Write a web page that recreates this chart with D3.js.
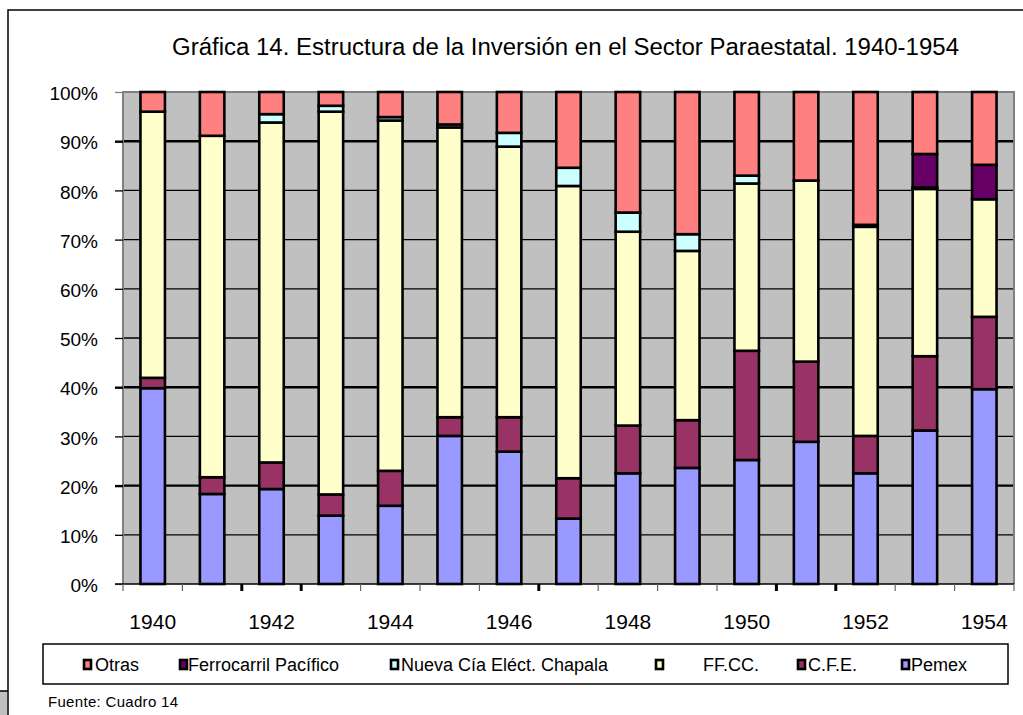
<!DOCTYPE html>
<html><head><meta charset="utf-8">
<script src="https://cdn.jsdelivr.net/npm/d3@7"></script>
<style>
body{margin:0;background:#fff}
svg{display:block}
text{font-family:Arial,"Liberation Sans",sans-serif;fill:#000}
</style>
</head><body>
<svg id="c" width="1023" height="715"></svg>
<script>
// ---- data (percent of total investment) ----
const years = ["1940","1941","1942","1943","1944","1945","1946","1947","1948","1949","1950","1951","1952","1953","1954"];
const yearTickLabels = ["1940","","1942","","1944","","1946","","1948","","1950","","1952","","1954"];
const pemex  = [39.8,18.3,19.3,13.9,15.9,30.1,26.9,13.3,22.5,23.6,25.2,28.9,22.5,31.2,39.6];
const cfe    = [ 2.1, 3.4, 5.4, 4.3, 7.1, 3.8, 7.0, 8.2, 9.7, 9.7,22.2,16.3, 7.6,15.1,14.7];
const ffcc   = [54.1,69.4,69.1,77.8,71.2,58.9,55.0,59.4,39.4,34.4,34.0,36.8,42.5,34.0,23.9];
const nueva  = [ 0.0, 0.0, 1.7, 1.2, 0.7, 0.6, 2.8, 3.7, 3.9, 3.4, 1.6, 0.0, 0.4, 0.3, 0.0];
const ferro  = [ 0.0, 0.0, 0.0, 0.0, 0.0, 0.0, 0.0, 0.0, 0.0, 0.0, 0.0, 0.0, 0.0, 6.8, 7.0];
const otras  = [ 4.0, 8.9, 4.5, 2.8, 5.1, 6.6, 8.3,15.4,24.5,28.9,17.0,18.0,27.0,12.6,14.8];
const seriesKeys   = ["Pemex","C.F.E.","FF.CC.","Nueva Cía Eléct. Chapala","Ferrocarril Pacífico","Otras"];
const seriesValues = [pemex, cfe, ffcc, nueva, ferro, otras];
const seriesColors = ["#9999FF","#993366","#FFFFCC","#CCFFFF","#660066","#FF8080"];
const yTicks = [0,10,20,30,40,50,60,70,80,90,100];
const title = "Gráfica 14. Estructura de la Inversión en el Sector Paraestatal. 1940-1954";
const source = "Fuente: Cuadro 14";

// ---- build table ----
const rows = years.map((yr,i)=>{
  const r = {year:yr};
  seriesKeys.forEach((k,j)=>{ r[k] = seriesValues[j][i]; });
  return r;
});
const stacked = d3.stack().keys(seriesKeys)(rows);

const svg = d3.select("#c");
const L = 123, R = 1014, T = 92, B = 584;
const x = d3.scaleBand().domain(years).range([L,R]).paddingInner(0.588).paddingOuter(0.294);
const y = d3.scaleLinear().domain([0,100]).range([B,T]);
const color = d3.scaleOrdinal().domain(seriesKeys).range(seriesColors);

// outer frame
svg.append("path").attr("d","M8,715 L8,10 L1023,10").attr("fill","none").attr("stroke","#000").attr("stroke-width",1.5);
svg.append("rect").attr("x",0).attr("y",691).attr("width",7).attr("height",24).attr("fill","#c0c0c0");
svg.append("line").attr("x1",0).attr("x2",8).attr("y1",691).attr("y2",691).attr("stroke","#000").attr("stroke-width",1.5);

// title
svg.append("text").attr("x",172).attr("y",55).attr("font-size",23)
  .attr("textLength",787).attr("lengthAdjust","spacingAndGlyphs").text(title);

// plot background
svg.append("rect").attr("x",L).attr("y",T).attr("width",R-L).attr("height",B-T).attr("fill","#c0c0c0");

// gridlines
const thick = new Set([20,40,90]);
svg.append("g").selectAll("line").data(yTicks.filter(d=>d>0 && d<100)).join("line")
  .attr("x1",L).attr("x2",R).attr("y1",d=>y(d)).attr("y2",d=>y(d))
  .attr("stroke","#000").attr("stroke-width",d=>thick.has(d)?2.4:1.3);

// plot border (top/right/left) gray
svg.append("path").attr("d",`M${L},${B} L${L},${T} L${R},${T} L${R},${B}`)
  .attr("fill","none").attr("stroke","#808080").attr("stroke-width",2);

// y axis
const yAxis = svg.append("g").attr("transform",`translate(${L},0)`)
  .call(d3.axisLeft(y).tickValues(yTicks).tickFormat(d=>d+"%").tickSize(8).tickPadding(17));
yAxis.select(".domain").remove();
yAxis.selectAll(".tick line").attr("stroke",d=>(d===100||d===0)?"#808080":"#000").attr("stroke-width",d=>thick.has(d)?2.4:1.3);
yAxis.selectAll(".tick text").attr("font-size",19).attr("dy","0.40em").attr("font-family",null);

// bars
const layer = svg.append("g").selectAll("g").data(stacked).join("g").attr("fill",d=>color(d.key));
layer.selectAll("rect").data(d=>d.filter(s=>s[1]-s[0]>0)).join("rect")
  .attr("x",d=>x(d.data.year)).attr("width",x.bandwidth())
  .attr("y",d=>y(d[1])).attr("height",d=>y(d[0])-y(d[1]))
  .attr("stroke","#000").attr("stroke-width",2.6);

// x axis
svg.append("line").attr("x1",L-8).attr("x2",R).attr("y1",B).attr("y2",B).attr("stroke","#000").attr("stroke-width",1.5);
const step = x.step();
const boundaries = d3.range(years.length+1).map(i=>L+i*step);
const thickTicks = new Set([2,3,7,11,12]);
svg.append("g").selectAll("line").data(boundaries).join("line")
  .attr("x1",d=>d).attr("x2",d=>d).attr("y1",B).attr("y2",B+7)
  .attr("stroke",(d,i)=>thickTicks.has(i)?"#000":"#666").attr("stroke-width",(d,i)=>thickTicks.has(i)?3:1.2);
const xAxis = svg.append("g").attr("transform",`translate(0,${B})`)
  .call(d3.axisBottom(x).tickFormat((d,i)=>yearTickLabels[i]).tickSize(0).tickPadding(30));
xAxis.select(".domain").remove();
xAxis.selectAll(".tick text").attr("font-size",21).attr("font-family",null);

// legend
svg.append("rect").attr("x",43).attr("y",644).attr("width",965).attr("height",40)
  .attr("fill","#fff").attr("stroke","#000").attr("stroke-width",1.5);
const legendOrder = seriesKeys.slice().reverse();
const legendMarkX = [84, 180, 391, 656, 798, 902];
const legendTextX = [95, 188, 401, 703, 808, 911];
const lg = svg.append("g").selectAll("g").data(legendOrder).join("g");
lg.append("rect").attr("x",(d,i)=>legendMarkX[i]).attr("y",660).attr("width",7).attr("height",9)
  .attr("fill",d=>color(d)).attr("stroke","#000").attr("stroke-width",2.6);
lg.append("text").attr("x",(d,i)=>legendTextX[i]).attr("y",671).attr("font-size",18).text(d=>d);

// source
svg.append("text").attr("x",48).attr("y",707).attr("font-size",15)
  .attr("textLength",130).attr("lengthAdjust","spacing").text(source);
</script>
</body></html>
